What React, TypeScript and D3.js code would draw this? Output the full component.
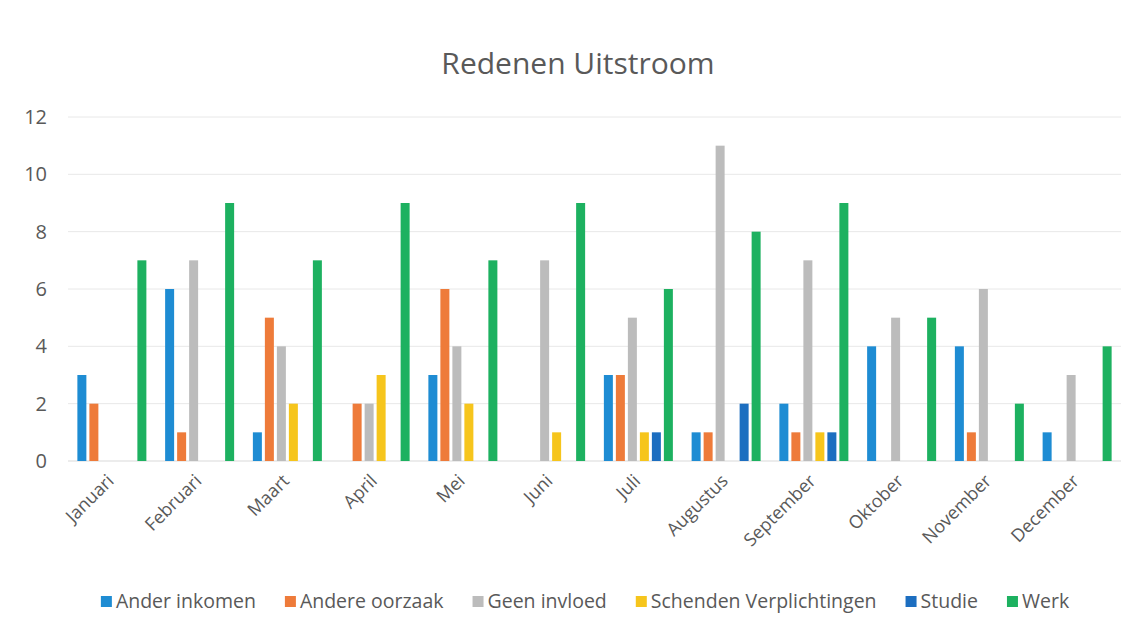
import * as d3 from "d3";

const months = [
  "Januari", "Februari", "Maart", "April", "Mei", "Juni",
  "Juli", "Augustus", "September", "Oktober", "November", "December",
];
const seriesNames = [
  "Ander inkomen", "Andere oorzaak", "Geen invloed",
  "Schenden Verplichtingen", "Studie", "Werk",
];
const anderInkomen = [3, 6, 1, 0, 3, 0, 3, 1, 2, 4, 4, 1];
const andereOorzaak = [2, 1, 5, 2, 6, 0, 3, 1, 1, 0, 1, 0];
const geenInvloed = [0, 7, 4, 2, 4, 7, 5, 11, 7, 5, 6, 3];
const schendenVerplichtingen = [0, 0, 2, 3, 2, 1, 1, 0, 1, 0, 0, 0];
const studie = [0, 0, 0, 0, 0, 0, 1, 2, 1, 0, 0, 0];
const werk = [7, 9, 7, 9, 7, 9, 6, 8, 9, 5, 2, 4];
const yTicks = [0, 2, 4, 6, 8, 10, 12];

const colors = ["#1E8CD3", "#EE7B3A", "#BCBCBC", "#F6C51C", "#1C6EC0", "#1DB160"];
const values = [anderInkomen, andereOorzaak, geenInvloed, schendenVerplichtingen, studie, werk];

const W = 1139;
const H = 632;
const font = "'Open Sans', 'Liberation Sans', sans-serif";
const textColor = "#595959";
const legendFont = 19.5;

function measure(s: string, size: number) {
  const ctx = document.createElement("canvas").getContext("2d");
  if (!ctx) return s.length * size * 0.55;
  ctx.font = `${size}px 'Open Sans'`;
  return ctx.measureText(s).width;
}

export default function App() {
  const x = d3.scaleBand<string>().domain(months).range([68, 1121]).padding(0);
  const inner = d3
    .scaleBand<string>()
    .domain(seriesNames)
    .range([0, 69])
    .paddingInner(0.25);
  const offset = (x.bandwidth() - 69) / 2;
  const y = d3.scaleLinear().domain([0, 12]).range([461, 117]);

  // legend layout: square, 4px gap, text, then gap to next item
  const legendWidths = seriesNames.map((s) => 15 + measure(s, legendFont) + 29);
  const legendTotal = d3.sum(legendWidths) - 29;
  let lx = 585 - legendTotal / 2;
  const legendPos = legendWidths.map((w) => {
    const p = lx;
    lx += w;
    return p;
  });

  return (
    <svg
      width={W}
      height={H}
      style={{ position: "absolute", left: 0, top: 0, background: "#fff" }}
      fontFamily={font}
    >
      <text x={578} y={74} textAnchor="middle" fontSize={30} fill={textColor}>
        Redenen Uitstroom
      </text>

      {yTicks.map((t) => (
        <g key={t}>
          <line
            x1={68}
            x2={1121}
            y1={y(t)}
            y2={y(t)}
            stroke={t === 0 ? "#d9d9d9" : "#e8e8e8"}
            strokeWidth={1}
          />
          <text
            x={47}
            y={y(t)}
            dy="0.35em"
            textAnchor="end"
            fontSize={20}
            fill={textColor}
          >
            {t}
          </text>
        </g>
      ))}

      {months.map((m, i) => (
        <g key={m} transform={`translate(${(x(m) ?? 0) + offset},0)`}>
          {seriesNames.map((s, j) =>
            values[j][i] > 0 ? (
              <rect
                key={s}
                x={inner(s)}
                y={y(values[j][i])}
                width={inner.bandwidth()}
                height={y(0) - y(values[j][i])}
                fill={colors[j]}
              />
            ) : null
          )}
        </g>
      ))}

      {months.map((m) => {
        const cx = (x(m) ?? 0) + x.bandwidth() / 2 + 3;
        return (
          <text
            key={m}
            transform={`translate(${cx},482) rotate(-45)`}
            textAnchor="end"
            fontSize={18}
            fill={textColor}
          >
            {m}
          </text>
        );
      })}

      {seriesNames.map((s, j) => (
        <g key={s} transform={`translate(${legendPos[j]},601)`}>
          <rect x={0} y={-5} width={11} height={11} fill={colors[j]} />
          <text x={15} y={0} dy="0.35em" fontSize={legendFont} fill={textColor}>
            {s}
          </text>
        </g>
      ))}
    </svg>
  );
}
